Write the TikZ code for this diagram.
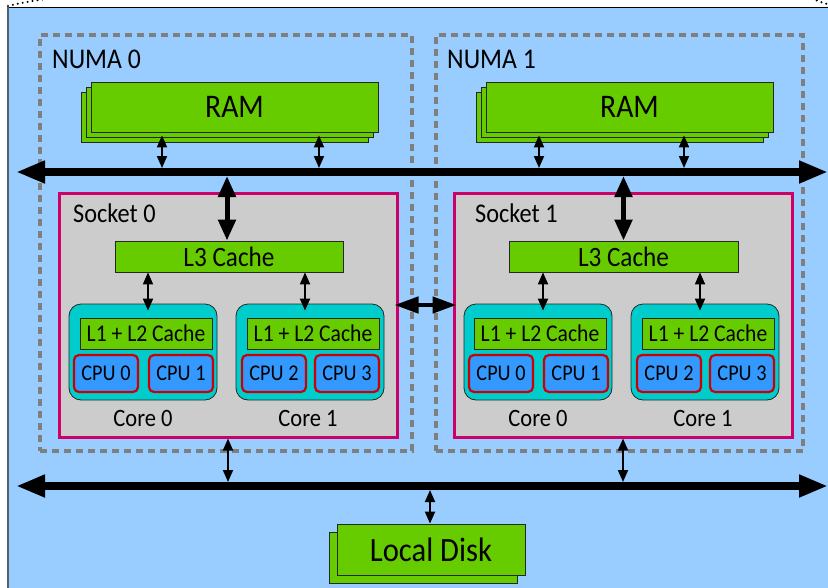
\documentclass[tikz,border=0pt]{standalone}
\usepackage{fontspec}
\setmainfont[FakeStretch=0.9]{Carlito}
\usetikzlibrary{arrows.meta,shadows,calc}

\definecolor{bgblue}{HTML}{99CCFF}
\definecolor{boxgreen}{HTML}{66CC00}
\definecolor{sockgrey}{HTML}{CCCCCC}
\definecolor{sockrim}{HTML}{CC0066}
\definecolor{corecyan}{HTML}{00CCCC}
\definecolor{cpublue}{HTML}{3399FF}
\definecolor{cpurim}{HTML}{CC0000}
\definecolor{numagrey}{HTML}{7F7F7F}
\definecolor{edgegrey}{HTML}{56606C}

\tikzset{
  greenbox/.style={draw=black!85, line width=0.8pt, fill=boxgreen, inner sep=0pt},
  membox/.style={greenbox, double copy shadow={shadow xshift=-5pt, shadow yshift=-5pt,
      fill=boxgreen, draw=black!85, line width=0.8pt}},
  diskbox/.style={greenbox, copy shadow={shadow xshift=-8pt, shadow yshift=-8pt,
      fill=boxgreen, draw=black!85, line width=0.8pt}},
  numabox/.style={draw=numagrey, line width=4pt, dash pattern=on 7pt off 5pt, inner sep=0pt},
  socketbox/.style={draw=sockrim, fill=sockgrey, line width=3pt, inner sep=0pt},
  corebox/.style={draw=black!85, fill=corecyan, line width=0.8pt, rounded corners=12pt, inner sep=0pt,
      minimum width=148pt, minimum height=96pt},
  cachebox/.style={greenbox, minimum width=132pt, minimum height=31pt, font=\fontsize{24}{26}\selectfont},
  cpubox/.style={draw=cpurim, fill=cpublue, line width=2.2pt, rounded corners=5pt, inner sep=0pt,
      minimum width=64pt, minimum height=37pt, font=\fontsize{22.5}{24}\selectfont},
  lbl/.style={inner sep=0pt, anchor=west},
  corelbl/.style={inner sep=0pt, font=\fontsize{25}{27}\selectfont},
  dots/.style={line width=2.2pt, line cap=round, dash pattern=on 0pt off 5pt},
  bus/.style={line width=8pt, {Triangle[length=29pt,width=21pt]}-{Triangle[length=29pt,width=21pt]}},
  fatlink/.style={line width=5pt, {Triangle[length=21pt,width=17pt]}-{Triangle[length=21pt,width=17pt]}},
  sockjoin/.style={line width=4.5pt, {Triangle[length=24pt,width=16pt]}-{Triangle[length=24pt,width=16pt]}},
  thinlink/.style={line width=1.8pt, {Triangle[length=12pt,width=10pt]}-{Triangle[length=12pt,width=10pt]}},
}

\begin{document}
\begin{tikzpicture}[x=1pt,y=-1pt]
\useasboundingbox (0,0) rectangle (828,587);

% machine background and its visible edges
\fill[bgblue] (8,7) rectangle (834,594);
\draw[black, line width=1pt] (8,7) -- (834,7);
\draw[edgegrey, line width=2pt] (8,7) -- (8,594);
\draw[dots] (8,6) .. controls (20,3) and (32,1) .. (46,-1);
\draw[dots] (812,-1) .. controls (818,1) and (824,3) .. (830,5);

% NUMA domains
\node[numabox, minimum width=372pt, minimum height=416pt] (numa0) at (226,243) {};
\node[numabox, minimum width=367pt, minimum height=416pt] (numa1) at (619.5,243) {};
\node[lbl, font=\fontsize{28.5}{30}\selectfont] (numa0lbl) at (52,59) {NUMA 0};
\node[lbl, font=\fontsize{28.5}{30}\selectfont] (numa1lbl) at (447,59) {NUMA 1};

% memory banks
\node[membox, minimum width=287pt, minimum height=50pt, font=\fontsize{33}{36}\selectfont] (ram0) at (234.5,107) {RAM};
\node[membox, minimum width=287pt, minimum height=50pt, font=\fontsize{33}{36}\selectfont] (ram1) at (629.5,107) {RAM};

% upper interconnect
\coordinate (topbusL) at (16,172);
\coordinate (topbusR) at (828,172);
\draw[bus] (topbusL) -- (topbusR);

\draw[thinlink, shorten <=3pt, shorten >=4pt] ([xshift=-72.5pt]ram0.south) -- ([xshift=-72.5pt]ram0.south |- topbusL);
\draw[thinlink, shorten <=3pt, shorten >=4pt] ([xshift=84.5pt]ram0.south) -- ([xshift=84.5pt]ram0.south |- topbusL);
\draw[thinlink, shorten <=3pt, shorten >=4pt] ([xshift=-90.5pt]ram1.south) -- ([xshift=-90.5pt]ram1.south |- topbusL);
\draw[thinlink, shorten <=3pt, shorten >=4pt] ([xshift=54.5pt]ram1.south) -- ([xshift=54.5pt]ram1.south |- topbusL);

% sockets
\node[socketbox, minimum width=338pt, minimum height=244pt] (sock0) at (228,315) {};
\node[socketbox, minimum width=338pt, minimum height=244pt] (sock1) at (623,315) {};
\node[lbl, font=\fontsize{27}{29}\selectfont] (sock0lbl) at (73,213) {Socket 0};
\node[lbl, font=\fontsize{27}{29}\selectfont] (sock1lbl) at (475,213) {Socket 1};

% shared caches
\node[greenbox, minimum width=228pt, minimum height=31pt, font=\fontsize{28}{30}\selectfont] (l3a) at (229,256.5) {L3 Cache};
\node[greenbox, minimum width=229pt, minimum height=31pt, font=\fontsize{28}{30}\selectfont] (l3b) at (623.5,256.5) {L3 Cache};

\draw[fatlink, shorten <=4pt] ([xshift=-2pt]l3a.north |- topbusL) -- ([xshift=-2pt]l3a.north);
\draw[fatlink, shorten <=4pt] (l3b.north |- topbusL) -- (l3b.north);

% socket 0 cores
\node[corebox] (core00) at (143,352) {};
\node[cachebox] (l2c00) at ($(core00)+(3,-18.5)$) {L1 + L2 Cache};
\node[cpubox] (cpu00a) at ($(core00)+(-37,21.5)$) {CPU 0};
\node[cpubox] (cpu00b) at ($(core00)+(38,21.5)$) {CPU 1};
\node[corelbl] (core00lbl) at ($(core00)+(0,66)$) {Core 0};

\node[corebox] (core01) at (310,352) {};
\node[cachebox] (l2c01) at ($(core01)+(3,-18.5)$) {L1 + L2 Cache};
\node[cpubox] (cpu01a) at ($(core01)+(-36,21.5)$) {CPU 2};
\node[cpubox] (cpu01b) at ($(core01)+(37,21.5)$) {CPU 3};
\node[corelbl] (core01lbl) at ($(core01)+(-2,66)$) {Core 1};

% socket 1 cores
\node[corebox] (core10) at (538,352) {};
\node[cachebox] (l2c10) at ($(core10)+(2,-18.5)$) {L1 + L2 Cache};
\node[cpubox] (cpu10a) at ($(core10)+(-37,21.5)$) {CPU 0};
\node[cpubox] (cpu10b) at ($(core10)+(38,21.5)$) {CPU 1};
\node[corelbl] (core10lbl) at ($(core10)+(0,66)$) {Core 0};

\node[corebox] (core11) at (705,352) {};
\node[cachebox] (l2c11) at ($(core11)+(3,-18.5)$) {L1 + L2 Cache};
\node[cpubox] (cpu11a) at ($(core11)+(-36,21.5)$) {CPU 2};
\node[cpubox] (cpu11b) at ($(core11)+(37,21.5)$) {CPU 3};
\node[corelbl] (core11lbl) at ($(core11)+(-2,66)$) {Core 1};

% L3 to core links
\draw[thinlink, shorten >=-7pt] ([xshift=5pt]core00.north |- l3a.south) -- ([xshift=5pt]core00.north);
\draw[thinlink, shorten >=-7pt] ([xshift=-5pt]core01.north |- l3a.south) -- ([xshift=-5pt]core01.north);
\draw[thinlink, shorten >=-7pt] ([xshift=5pt]core10.north |- l3b.south) -- ([xshift=5pt]core10.north);
\draw[thinlink, shorten >=-7pt] ([xshift=-5pt]core11.north |- l3b.south) -- ([xshift=-5pt]core11.north);

% socket interconnect
\draw[sockjoin, shorten <=-4pt, shorten >=-4pt] ([yshift=10pt]sock0.east) -- ([yshift=10pt]sock1.west);

% lower interconnect and storage
\coordinate (lowbusL) at (16,486);
\coordinate (lowbusR) at (828,486);
\draw[bus] (lowbusL) -- (lowbusR);

\draw[thinlink, shorten >=4pt] (sock0.south) -- (sock0.south |- lowbusL);
\draw[thinlink, shorten >=4pt] (sock1.south) -- (sock1.south |- lowbusL);

\node[diskbox, minimum width=188pt, minimum height=51pt, font=\fontsize{34}{36}\selectfont] (disk) at (431,549.5) {Local Disk};
\draw[thinlink, shorten <=4pt] ([xshift=-1pt]disk.north |- lowbusL) -- ([xshift=-1pt]disk.north);
\end{tikzpicture}
\end{document}
